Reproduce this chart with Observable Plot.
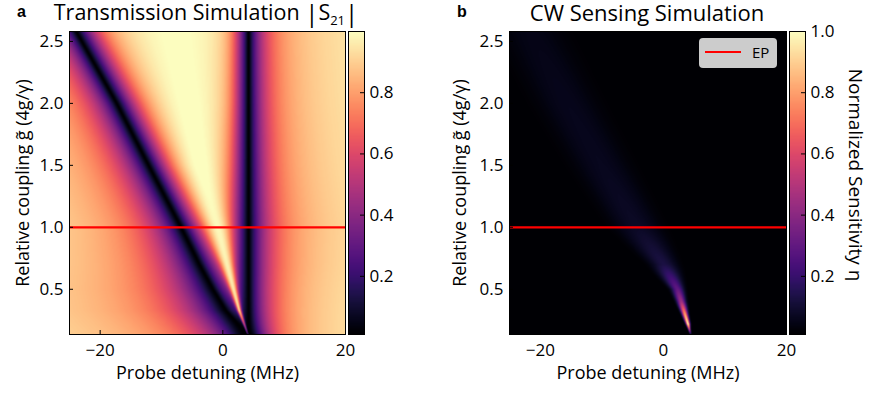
<!DOCTYPE html>
<html><head><meta charset="utf-8">
<script src="https://cdn.jsdelivr.net/npm/d3@7"></script>
<script src="https://cdn.jsdelivr.net/npm/@observablehq/plot@0.6"></script>
<style>
body{margin:0;background:#fff;}
#root{position:relative;width:870px;height:394px;overflow:hidden;font-family:"Open Sans",sans-serif;color:#000;}
.abs{position:absolute;}
.ttl{position:absolute;white-space:nowrap;transform:translateX(-50%);line-height:20px;}
.pl{position:absolute;top:3px;font-family:"Liberation Sans",Arial,sans-serif;font-weight:bold;font-size:16px;line-height:18px;}
</style></head>
<body><div id="root"></div>
<script>
// ---- data ----
const xTicks = [-20, 0, 20];
const yTicks = [0.5, 1.0, 1.5, 2.0, 2.5];
const cbTicksA = [0.2, 0.4, 0.6, 0.8];
const cbTicksB = [0.2, 0.4, 0.6, 0.8, 1.0];
const xDomain = [-25, 20];
const yDomain = [0.135, 2.58];
const epLevel = [1.0];

// panel a: dip positions, dip half-widths per side, and bright region between the dips (MHz)
const gKnots       = [0.135, 0.33, 0.5, 0.7, 1.0, 1.5, 2.0, 2.58];
const diagDipMHz   = [4.0, 0.5, -1.6, -3.8, -6.8, -12.1, -17.3, -23.9];
const vertDipMHz   = 4.2;
const diagLeftW    = [9.0, 9.0, 8.5, 7.5, 6.4, 5.8, 5.2, 4.7];
const diagRightW   = [3.0, 4.0, 4.5, 5.0, 5.0, 5.1, 5.2, 5.3];
const vertLeftW    = [3.5, 3.8, 4.0, 4.2, 4.3, 3.8, 3.4, 3.2];
const vertRightW   = [3.7, 3.7, 3.8, 4.0, 4.2, 3.8, 3.5, 3.3];
const brightCenter = [4.1, 2.7, 1.8, 0.8, -0.7, -4.5, -7.0, -9.5];
const brightWidth  = [0.1, 0.35, 0.7, 1.3, 2.5, 4.5, 6.0, 7.5];
const brightLevel  = [0.3, 0.92, 0.95, 0.97, 0.99, 1.0, 1.0, 1.0];

// panel b: sensitivity ridge
const sensG      = [0.14, 0.18, 0.22, 0.3, 0.4, 0.5, 0.7, 1.0, 1.5, 2.0, 2.58];
const sensPeak   = [0.15, 0.6, 1.0, 0.8, 0.45, 0.3, 0.13, 0.08, 0.065, 0.06, 0.05];
const sensCenter = [4.4, 4.2, 4.0, 3.5, 2.9, 2.3, 0.1, -4.2, -10.0, -15.6, -21.5];
const sensWidth  = [0.15, 0.2, 0.3, 0.45, 0.7, 1.0, 2.2, 4.0, 5.0, 5.5, 6.0];

// ---- helpers ----
const lin = (xs, ys) => d3.scaleLinear().domain(xs).range(ys).clamp(true);
const zDiag = lin(gKnots, diagDipMHz), wDL = lin(gKnots, diagLeftW), wDR = lin(gKnots, diagRightW),
      wVL = lin(gKnots, vertLeftW), wVR = lin(gKnots, vertRightW),
      bC = lin(gKnots, brightCenter), bW = lin(gKnots, brightWidth), bL = lin(gKnots, brightLevel);
const dip = (d, c, q) => { const a = Math.abs(d); return a / Math.pow(Math.pow(a, q) + Math.pow(c, q), 1 / q); };
function dips(x, g) {
  const d1 = x - zDiag(g), d2 = x - vertDipMHz;
  const D1 = d1 < 0 ? dip(d1, wDL(g), 1.5) : dip(d1, wDR(g), 2.5);
  const D2 = d2 < 0 ? dip(d2, wVL(g), 3) : dip(d2, wVR(g), 1.5);
  return D1 * D2;
}
function transmission(x, g) {
  const m = bC(g), h = bW(g);
  const A = Math.max(0, bL(g) / Math.max(1e-6, dips(m, g)) - 1);
  const t = (x - m) / h;
  return Math.min(1, dips(x, g) * (1 + A * Math.exp(-t * t)));
}
const sP = lin(sensG, sensPeak), sC = lin(sensG, sensCenter), sWd = lin(sensG, sensWidth);
function sensitivity(x, g) {
  const t = (x - sC(g)) / sWd(g);
  return Math.max(0.012, sP(g) * Math.exp(-t * t));
}
const fmtX = d => d < 0 ? "\u2212" + Math.abs(d) : String(d);
const fmtY = d => d.toFixed(1);
const colorOpt = {scheme: "magma", domain: [0.01, 1.0]};
const style = {fontFamily: "Open Sans", fontSize: "17px", color: "black", background: "transparent", overflow: "visible"};
const FH = 303;

function panel(fill, left, width, mL, ylabDx) {
  const FW = width - mL - 1;
  const p = Plot.plot({
    width, height: 394, marginLeft: mL, marginRight: 1, marginTop: 31, marginBottom: 60,
    style,
    x: {domain: xDomain},
    y: {domain: yDomain},
    color: colorOpt,
    marks: [
      Plot.raster({fill, x1: xDomain[0], x2: xDomain[1], y1: yDomain[0], y2: yDomain[1], pixelSize: 1}),
      Plot.ruleY(epLevel, {stroke: "#ff0000", strokeWidth: 2.2}),
      Plot.tickX(xTicks, {x: d => d, insetTop: FH - 4, stroke: "black"}),
      Plot.tickY(yTicks, {y: d => d, insetRight: FW - 4, stroke: "black"}),
      Plot.frame({stroke: "black"}),
      Plot.axisX(xTicks, {tickSize: 0, tickPadding: 9, tickFormat: fmtX, fontSize: 17, label: null}),
      Plot.axisY(yTicks, {tickSize: 0, tickPadding: 6, tickFormat: fmtY, fontSize: 17, label: null}),
      Plot.text(["Probe detuning (MHz)"], {text: d => d, frameAnchor: "bottom", lineAnchor: "middle", dy: 39, fontSize: 18}),
      Plot.text(["Relative coupling g\u0303 (4g/\u03b3)"], {text: d => d, frameAnchor: "left", textAnchor: "middle", lineAnchor: "middle", dx: ylabDx, rotate: -90, fontSize: 18})
    ]
  });
  p.classList.add("abs"); p.style.left = left + "px"; p.style.top = "0px";
  return p;
}
function colorbar(left, ticks) {
  const p = Plot.plot({
    width: 66, height: 394, marginLeft: 0, marginRight: 50, marginTop: 31, marginBottom: 60,
    style,
    x: {domain: [0, 1], axis: null},
    y: {domain: [0.01, 1.0]},
    color: colorOpt,
    marks: [
      Plot.raster({fill: (x, y) => y, x1: 0, x2: 1, y1: 0.01, y2: 1.0, pixelSize: 1}),
      Plot.tickY(ticks, {y: d => d, insetLeft: 12, stroke: "black"}),
      Plot.frame({stroke: "black"}),
      Plot.axisY(ticks, {anchor: "right", tickSize: 0, tickPadding: 5, tickFormat: fmtY, fontSize: 17, label: null})
    ]
  });
  p.classList.add("abs"); p.style.left = left + "px"; p.style.top = "0px";
  return p;
}
const root = document.getElementById("root");
root.appendChild(panel(transmission, 0, 346, 69, -46));
root.appendChild(colorbar(348, cbTicksA));
root.appendChild(panel(sensitivity, 435, 352, 74, -49));
root.appendChild(colorbar(789, cbTicksB));

function addHTML(html) { const d = document.createElement("div"); d.innerHTML = html; while (d.firstChild) root.appendChild(d.firstChild); }
addHTML(`<div class="pl" style="left:17px;">a</div>`);
addHTML(`<div class="pl" style="left:457px;">b</div>`);
addHTML(`<div class="ttl" style="left:206px;top:2px;font-size:21.5px;">Transmission Simulation <span style="font-size:24px;line-height:18px;vertical-align:-2px;">|</span>S<sub style="font-size:13px;line-height:10px;">21</sub><span style="font-size:24px;line-height:18px;vertical-align:-2px;">|</span></div>`);
addHTML(`<div class="ttl" style="left:647px;top:2px;font-size:22px;">CW Sensing Simulation</div>`);
addHTML(`<div class="abs" style="left:856px;top:175px;font-size:19px;line-height:20px;white-space:nowrap;transform:translate(-50%,-50%) rotate(90deg);">Normalized Sensitivity \u03b7</div>`);
addHTML(`<div class="abs" style="left:699px;top:38px;width:78px;height:30px;background:#cccccc;border-radius:4px;"><div class="abs" style="left:6px;top:13px;width:36px;height:2px;background:#ff0000;"></div><div class="abs" style="left:53px;top:4px;font-size:15px;line-height:20px;">EP</div></div>`);
</script></body></html>
